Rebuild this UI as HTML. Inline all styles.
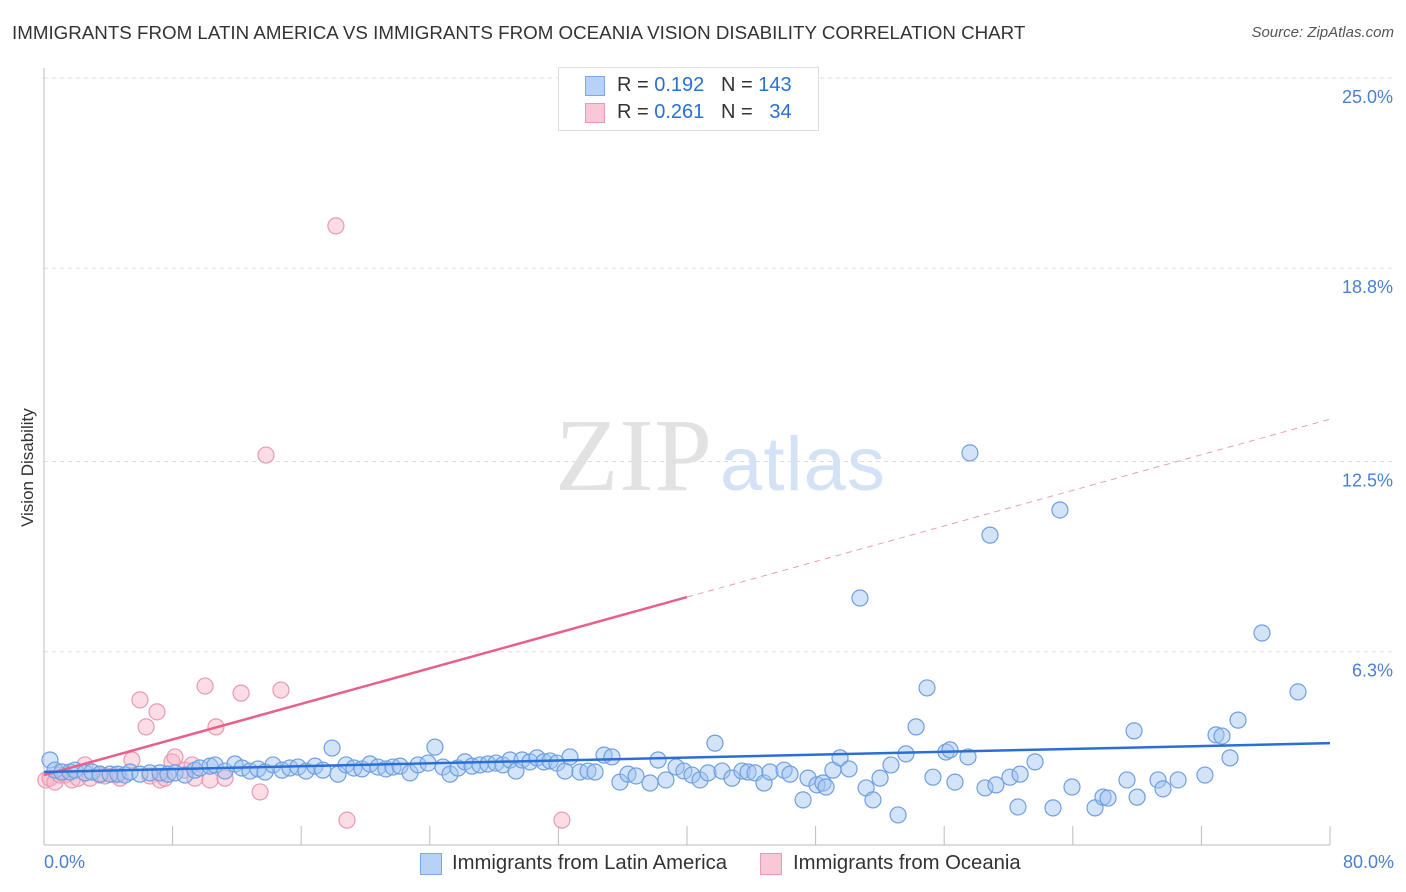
<!DOCTYPE html>
<html><head><meta charset="utf-8"><style>
body{margin:0;background:#fff;font-family:"Liberation Sans",sans-serif;}
#wrap{position:relative;width:1406px;height:892px;overflow:hidden}
.t{position:absolute;white-space:nowrap}
</style></head><body>
<div id="wrap">
<div class="t" style="left:12px;top:22px;font-size:18.75px;color:#333">IMMIGRANTS FROM LATIN AMERICA VS IMMIGRANTS FROM OCEANIA VISION DISABILITY CORRELATION CHART</div>
<div class="t" style="right:12px;top:24px;font-size:15px;color:#555;font-style:italic">Source: ZipAtlas.com</div>
<svg id="plot" width="1406" height="892" style="position:absolute;left:0;top:0"></svg>
</div>
<script>
const yTicks=[25.0,18.8,12.5,6.3];
const yTickLabels=["25.0%","18.8%","12.5%","6.3%"];
const xMin=0,xMax=80,yMin=0,yMax=25;
const blueX=[0.37,0.68,1.12,1.62,1.93,2.55,2.99,3.48,4.11,4.60,5.04,5.35,5.97,6.59,7.22,7.71,8.15,8.77,9.39,9.70,10.33,10.64,11.26,11.88,12.32,12.81,13.31,13.75,14.25,14.81,15.30,15.80,16.30,16.86,17.35,17.92,18.29,18.79,19.28,19.78,20.28,20.78,21.27,21.71,22.15,22.77,23.27,23.89,24.32,24.82,25.26,25.75,26.19,26.63,27.12,27.62,28.12,28.55,28.99,29.36,29.74,30.23,30.67,31.10,31.48,31.91,32.41,32.72,33.34,33.84,34.28,34.84,35.33,35.83,36.33,36.83,37.70,38.20,38.69,39.32,39.81,40.31,40.81,41.31,41.74,42.18,42.80,43.42,43.80,44.23,44.79,45.16,46.04,46.41,47.22,47.53,48.09,48.46,48.65,49.08,49.52,50.08,50.76,51.14,51.57,52.01,52.69,53.13,53.62,54.25,54.93,55.30,56.11,56.36,56.67,57.48,57.60,58.54,58.85,59.22,60.09,60.59,60.72,61.65,62.77,63.20,63.95,65.38,65.88,66.19,67.37,67.81,68.00,69.30,69.61,70.55,72.22,72.91,73.28,73.78,74.28,75.77,78.01];
const blueY=[2.77,2.44,2.38,2.38,2.44,2.35,2.38,2.31,2.31,2.31,2.28,2.38,2.31,2.35,2.35,2.31,2.35,2.28,2.44,2.51,2.57,2.61,2.41,2.64,2.51,2.41,2.48,2.38,2.61,2.44,2.51,2.54,2.41,2.57,2.44,3.16,2.31,2.61,2.51,2.48,2.64,2.54,2.48,2.54,2.57,2.35,2.61,2.67,3.19,2.54,2.31,2.51,2.71,2.57,2.61,2.64,2.67,2.61,2.77,2.41,2.77,2.71,2.84,2.71,2.74,2.67,2.41,2.87,2.38,2.41,2.38,2.93,2.87,2.05,2.31,2.25,2.02,2.77,2.12,2.54,2.41,2.28,2.12,2.35,3.32,2.41,2.18,2.41,2.38,2.35,2.02,2.38,2.44,2.31,1.47,2.18,1.96,2.02,1.89,2.44,2.84,2.48,8.05,1.86,1.47,2.18,2.61,0.98,2.97,3.85,5.12,2.21,3.03,3.10,2.05,2.87,12.78,1.86,10.10,1.96,2.21,1.24,2.31,2.71,1.21,10.92,1.89,1.21,1.56,1.53,2.12,3.72,1.56,2.12,1.83,2.12,2.28,3.59,3.55,2.84,4.07,6.91,4.99];
const pinkX=[0.12,0.37,0.68,1.0,1.31,1.74,2.12,2.55,2.86,3.48,3.79,4.42,4.73,5.47,5.97,6.35,6.59,7.03,7.22,7.53,7.96,8.15,8.77,9.21,9.39,10.02,10.33,10.70,11.26,12.26,13.44,13.81,14.74,18.16,18.85,32.22];
const pinkY=[2.12,2.18,2.05,2.28,2.28,2.12,2.18,2.61,2.18,2.28,2.25,2.28,2.18,2.77,4.73,3.85,2.25,4.34,2.12,2.18,2.71,2.87,2.44,2.61,2.18,5.18,2.12,3.85,2.18,4.95,1.73,12.71,5.05,20.18,0.81,0.81];
const blueTrend=[2.38,3.32];
const pinkTrend=[2.28,13.88];
const pinkSolidEnd=40;

const L=44,R=1330,T=78,B=845;
const sx=v=>L+(v-xMin)/(xMax-xMin)*(R-L);
const sy=v=>B-(v-yMin)/(yMax-yMin)*(B-T);
const svg=document.getElementById('plot');
const NS='http://www.w3.org/2000/svg';
function mk(tag,attrs){const e=document.createElementNS(NS,tag);for(const k in attrs)e.setAttribute(k,attrs[k]);svg.appendChild(e);return e;}

yTicks.forEach((v,i)=>{
  const g=mk('line',{x1:L,x2:1395,y1:sy(v),y2:sy(v),stroke:'#ddd','stroke-dasharray':'4,4'});
  
  
  const t=mk('text',{x:1393,y:sy(v)+25,'text-anchor':'end','font-size':18,fill:'#4a7fd4','font-family':'Liberation Sans, sans-serif'});
  t.textContent=yTickLabels[i];
  
  
});
const ya=mk('line',{x1:L,x2:L,y1:68,y2:B,stroke:'#bbb'});


const xa=mk('line',{x1:L,x2:R,y1:B,y2:B,stroke:'#bbb'});


for(let k=1;k<=10;k++){
  const tk=mk('line',{x1:sx(k*8),x2:sx(k*8),y1:826,y2:B,stroke:'#bbb'});
  
  
}
const wm=mk('text',{x:555,y:490,'font-size':104,'font-family':'Liberation Serif, serif',fill:'#e2e2e2',textLength:157});
wm.textContent='ZIP';


const wm2=mk('text',{x:720,y:490,'font-size':76,'font-family':'Liberation Sans, sans-serif',fill:'#d3e2f5',textLength:165});
wm2.textContent='atlas';



pinkX.forEach((x,i)=>{
  const c=mk('circle',{cx:sx(x),cy:sy(pinkY[i]),r:8,fill:'rgba(248,180,200,0.45)',stroke:'#e89ab2','stroke-width':1.2});
  
  
});
blueX.forEach((x,i)=>{
  const c=mk('circle',{cx:sx(x),cy:sy(blueY[i]),r:8,fill:'rgba(160,195,240,0.45)',stroke:'#6f9fe0','stroke-width':1.2});
  
  
});
const pAt=x=>pinkTrend[0]+(pinkTrend[1]-pinkTrend[0])*x/80;
const p1=mk('line',{x1:sx(0),y1:sy(pAt(0)),x2:sx(pinkSolidEnd),y2:sy(pAt(pinkSolidEnd)),stroke:'#e8608a','stroke-width':2.5});


const p2=mk('line',{x1:sx(pinkSolidEnd),y1:sy(pAt(pinkSolidEnd)),x2:sx(80),y2:sy(pAt(80)),stroke:'#e8a0b5','stroke-width':1,'stroke-dasharray':'6,5'});


const b1=mk('line',{x1:sx(0),y1:sy(blueTrend[0]),x2:sx(80),y2:sy(blueTrend[1]),stroke:'#2a6fd6','stroke-width':2.5});


</script>
<div class="t" style="left:44px;top:852px;font-size:18px;color:#4a7fd4">0.0%</div>
<div class="t" style="right:12px;top:852px;font-size:18px;color:#4a7fd4">80.0%</div>
<div class="t" style="font-size:17px;color:#333;transform:rotate(-90deg);transform-origin:left top;left:18px;top:527px">Vision Disability</div>
<div style="position:absolute;left:558px;top:67px;width:259px;height:62px;border:1px solid #ddd;background:#fff">
 <div style="position:absolute;left:26px;top:8px;width:18px;height:18px;background:#b8d2f5;border:1px solid #7ea8e4"></div>
 <div class="t" style="left:58px;top:6px;font-size:20px;color:#333">R = <span style="color:#2a6fd6">0.192</span>&nbsp;&nbsp;&nbsp;N = <span style="color:#2a6fd6">143</span></div>
 <div style="position:absolute;left:26px;top:35px;width:18px;height:18px;background:#f8c8d6;border:1px solid #e89ab2"></div>
 <div class="t" style="left:58px;top:33px;font-size:20px;color:#333">R = <span style="color:#2a6fd6">0.261</span>&nbsp;&nbsp;&nbsp;N = &nbsp;&nbsp;<span style="color:#2a6fd6">34</span></div>
</div>
<div style="position:absolute;left:420px;top:853px;width:20px;height:20px;background:#b8d2f5;border:1px solid #7ea8e4"></div>
<div class="t" style="left:452px;top:852px;font-size:20.3px;color:#333">Immigrants from Latin America</div>
<div style="position:absolute;left:760px;top:853px;width:20px;height:20px;background:#f8c8d6;border:1px solid #e89ab2"></div>
<div class="t" style="left:793px;top:852px;font-size:20.3px;color:#333">Immigrants from Oceania</div>
</body></html>
